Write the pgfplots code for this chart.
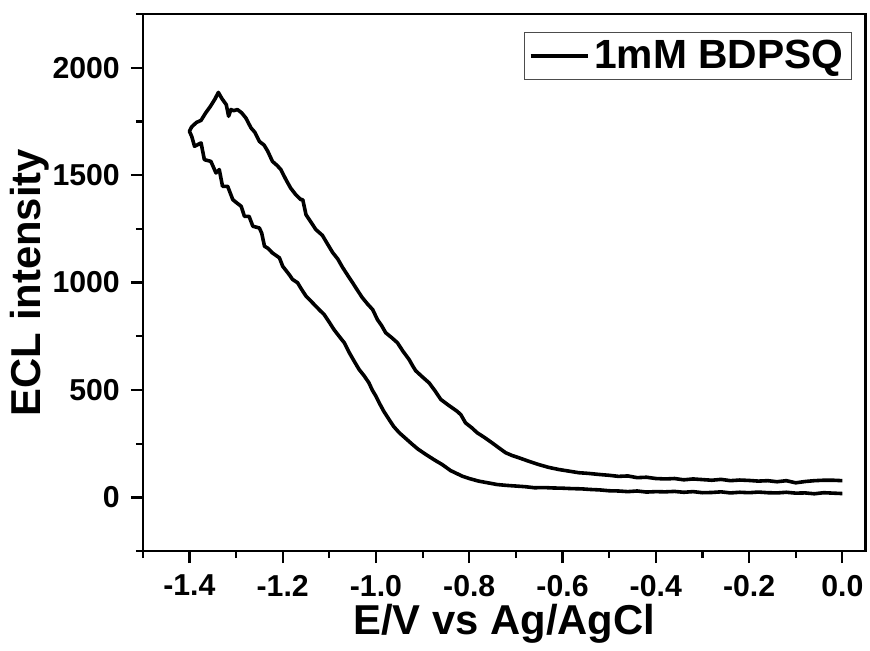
\documentclass[border=0pt]{standalone}
\usepackage{pgfplots}
\pgfplotsset{compat=1.18}
\usepackage{fontspec}
\setmainfont{Liberation Sans}
\begin{document}
\begin{tikzpicture}
\begin{axis}[
  scale only axis,
  width=362bp, height=269bp,
  xmin=-1.5, xmax=0.05,
  ymin=-250, ymax=2250,
  axis line style={line width=1.25bp},
  xtick={-1.4,-1.2,-1.0,-0.8,-0.6,-0.4,-0.2,0.0},
  minor xtick={-1.5,-1.3,-1.1,-0.9,-0.7,-0.5,-0.3,-0.1},
  ytick={0,500,1000,1500,2000},
  minor ytick={-250,250,750,1250,1750,2250},
  xticklabels={-1.4,-1.2,-1.0,-0.8,-0.6,-0.4,-0.2,0.0},
  tick align=outside,
  xtick pos=bottom, ytick pos=left,
  major tick length=6bp, minor tick length=3.5bp,
  every tick/.style={black, line width=1.1bp},
  /pgf/number format/assume math mode=true,
  ticklabel style={font=\bfseries\fontsize{15.2}{18}\selectfont},
  xticklabel style={yshift=-2.5bp},
  yticklabel style={xshift=-2bp, /pgf/number format/.cd, fixed, precision=0, 1000 sep={}},
  xlabel={E/V vs Ag/AgCl},
  ylabel={ECL intensity},
  label style={font=\bfseries\fontsize{21}{24}\selectfont},
  xlabel style={at={(axis description cs:0.5,-0.136)}, anchor=center},
  ylabel style={at={(axis description cs:-0.156,0.5)}, anchor=center},
  legend style={at={(rel axis cs:0.981,0.967)}, anchor=north east,
    draw=black!70, line width=0.5bp, inner xsep=2bp, inner ysep=2bp,
    font=\bfseries\fontsize{20.5}{23}\selectfont},
  legend cell align=left,
  legend image code/.code={\draw[line width=1.75bp] (0bp,0bp) -- (29bp,0bp);},
]
\addplot[black, line width=1.8bp, line join=round] coordinates {
(0.00,18) (-0.02,20) (-0.04,22) (-0.06,17) (-0.08,21) (-0.10,20) (-0.12,24) (-0.14,21)
(-0.16,22) (-0.18,25) (-0.20,22) (-0.22,24) (-0.24,21) (-0.26,26) (-0.28,23) (-0.30,22)
(-0.32,27) (-0.34,24) (-0.36,28) (-0.38,26) (-0.40,27) (-0.42,25) (-0.44,30) (-0.46,27)
(-0.48,30) (-0.50,31) (-0.52,35) (-0.54,37) (-0.56,40) (-0.58,41) (-0.60,43) (-0.62,44)
(-0.64,46) (-0.66,45) (-0.68,50) (-0.70,53) (-0.72,56) (-0.74,60) (-0.76,68) (-0.78,76)
(-0.80,88) (-0.815,99) (-0.84,125) (-0.858,153) (-0.875,175) (-0.893,200) (-0.91,225)
(-0.922,247) (-0.935,272) (-0.95,301) (-0.962,330) (-0.972,363) (-0.983,400) (-0.993,440)
(-1.000,471) (-1.008,500) (-1.015,533) (-1.025,565) (-1.036,595) (-1.047,635) (-1.057,673)
(-1.068,720) (-1.079,750) (-1.090,781) (-1.100,815) (-1.111,851) (-1.120,870) (-1.129,890)
(-1.140,915) (-1.150,937) (-1.160,970) (-1.168,999) (-1.179,1015) (-1.186,1037) (-1.200,1076)
(-1.207,1115) (-1.222,1138) (-1.232,1160) (-1.239,1169) (-1.245,1230) (-1.250,1254)
(-1.257,1258) (-1.264,1262) (-1.272,1308) (-1.282,1308) (-1.289,1355) (-1.298,1370)
(-1.307,1386) (-1.318,1448) (-1.329,1448) (-1.336,1526) (-1.343,1510) (-1.354,1564)
(-1.368,1572) (-1.375,1650) (-1.389,1634) (-1.395,1680) (-1.400,1704)
(-1.395,1725) (-1.385,1745) (-1.375,1755) (-1.365,1790) (-1.355,1820) (-1.345,1855)
(-1.338,1885) (-1.330,1855) (-1.321,1828) (-1.316,1774) (-1.311,1805) (-1.305,1800)
(-1.297,1805) (-1.288,1790) (-1.279,1766) (-1.268,1720) (-1.260,1700) (-1.250,1657)
(-1.240,1640) (-1.232,1611) (-1.222,1564) (-1.212,1545) (-1.204,1526) (-1.193,1479)
(-1.183,1440) (-1.172,1409) (-1.161,1386) (-1.157,1386) (-1.150,1316) (-1.143,1293)
(-1.129,1247) (-1.115,1220) (-1.104,1180) (-1.093,1140) (-1.082,1110) (-1.072,1072)
(-1.061,1035) (-1.050,999) (-1.040,965) (-1.029,929) (-1.018,900) (-1.007,874)
(-0.997,828) (-0.988,800) (-0.979,766) (-0.967,745) (-0.954,720) (-0.942,680)
(-0.929,642) (-0.922,615) (-0.915,590) (-0.900,560) (-0.886,533) (-0.873,495)
(-0.861,456) (-0.845,430) (-0.826,401) (-0.818,385) (-0.808,347) (-0.795,325)
(-0.783,301) (-0.768,280) (-0.751,254) (-0.736,230) (-0.722,208) (-0.708,195)
(-0.694,185) (-0.672,168) (-0.651,153) (-0.630,140) (-0.608,130) (-0.585,122)
(-0.565,115) (-0.545,112) (-0.522,107) (-0.50,103) (-0.48,98) (-0.46,100) (-0.44,92)
(-0.42,94) (-0.40,88) (-0.379,86) (-0.36,88) (-0.34,82) (-0.32,86) (-0.30,83) (-0.28,80)
(-0.26,84) (-0.24,78) (-0.22,81) (-0.20,79) (-0.18,76) (-0.16,78) (-0.14,73) (-0.12,78)
(-0.10,68) (-0.08,74) (-0.06,78) (-0.04,80) (-0.02,80) (0.00,78)
};
\addlegendentry{1mM BDPSQ}
\end{axis}
\path ([xshift=-71.5bp,yshift=-48bp]current axis.south west) rectangle ([xshift=1.5bp,yshift=7bp]current axis.north east);
\end{tikzpicture}
\end{document}
